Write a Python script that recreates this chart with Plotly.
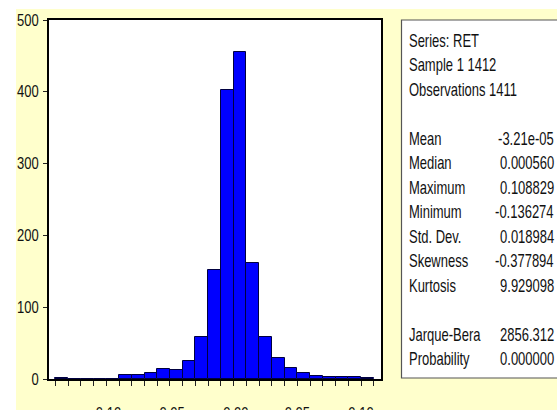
import plotly.graph_objects as go

# ---- data ----
bin_lower = [-0.14, -0.13, -0.12, -0.11, -0.10, -0.09, -0.08, -0.07, -0.06, -0.05,
             -0.04, -0.03, -0.02, -0.01, 0.00, 0.01, 0.02, 0.03, 0.04, 0.05,
             0.06, 0.07, 0.08, 0.09, 0.10]
counts = [2, 0, 0, 0, 0, 6, 5, 8, 14, 12,
          25, 58, 152, 402, 456, 161, 59, 29, 16, 9,
          4, 3, 3, 3, 2]
bin_width = 0.01

x_tick_vals = [round(-0.14 + 0.01 * i, 2) for i in range(26)]
x_label_map = {-0.10: "-0.10", -0.05: "-0.05", 0.0: "-0.00", 0.05: "0.05", 0.10: "0.10"}
y_tick_vals = [0, 100, 200, 300, 400, 500]

stat_header = ["Series: RET", "Sample 1 1412", "Observations 1411"]
stat_labels = ["Mean", "Median", "Maximum", "Minimum", "Std. Dev.", "Skewness", "Kurtosis"]
stat_values = ["-3.21e-05", "0.000560", "0.108829", "-0.136274", "0.018984", "-0.377894", "9.929098"]
test_labels = ["Jarque-Bera", "Probability"]
test_values = ["2856.312", "0.000000"]

# ---- layout geometry ----
W, H = 557, 410
ML, MR, MT, MB = 49, 176, 20, 31
PW = W - ML - MR
PH = H - MT - MB

def px_x(px):
    return (px - ML) / PW

def px_y(py):
    return (H - MB - py) / PH

FONT = "Liberation Sans, Arial, sans-serif"
YELLOW = "#FFFFCC"
TXT = "#111111"

centers = [b + bin_width / 2 for b in bin_lower]

fig = go.Figure()
fig.add_trace(go.Bar(
    x=centers, y=counts, width=[bin_width] * len(counts),
    marker=dict(color="#0000FF", line=dict(color="#000040", width=1)),
    hoverinfo="x+y",
))

shapes = [
    dict(type="rect", xref="paper", yref="paper", layer="below",
         x0=px_x(16), x1=px_x(600), y0=px_y(415), y1=px_y(9),
         fillcolor=YELLOW, line=dict(width=0)),
    dict(type="rect", xref="paper", yref="paper", layer="below",
         x0=0, x1=1, y0=0, y1=1, fillcolor="white", line=dict(width=0)),
    dict(type="rect", xref="paper", yref="paper", layer="above",
         x0=px_x(401.5), x1=px_x(620), y0=px_y(378), y1=px_y(20),
         fillcolor="white", line=dict(color="#555555", width=1.2)),
]

annotations = []
rows = []
for i, t in enumerate(stat_header):
    rows.append((i, t, None))
for j, (lab, val) in enumerate(zip(stat_labels, stat_values)):
    rows.append((4 + j, lab, val))
for j, (lab, val) in enumerate(zip(test_labels, test_values)):
    rows.append((12 + j, lab, val))

for idx, lab, val in rows:
    yy = px_y(40 + 24.5 * idx)
    annotations.append(dict(xref="paper", yref="paper", x=px_x(407), y=yy,
                            text=lab, showarrow=False, xanchor="left", yanchor="middle",
                            align="left",
                            font=dict(family=FONT, size=13, color=TXT)))
    if val is not None:
        annotations.append(dict(xref="paper", yref="paper", x=px_x(556), y=yy,
                                text=val, showarrow=False, xanchor="right", yanchor="middle",
                                align="right",
                                font=dict(family=FONT, size=13, color=TXT)))

fig.update_layout(
    width=W, height=H,
    margin=dict(l=ML, r=MR, t=MT, b=MB, pad=0),
    paper_bgcolor="white", plot_bgcolor="rgba(0,0,0,0)",
    bargap=0, showlegend=False,
    shapes=shapes, annotations=annotations,
    font=dict(family=FONT, size=13, color=TXT),
)
fig.update_xaxes(
    range=[-0.145, 0.1157], tickmode="array", tickvals=x_tick_vals,
    ticktext=[x_label_map.get(v, "") for v in x_tick_vals],
    ticks="outside", ticklen=5, tickwidth=1, tickcolor="#222222",
    ticklabelstandoff=17, automargin=False,
    showline=True, linecolor="black", linewidth=1.5, mirror=True,
    showgrid=False, zeroline=False,
    tickfont=dict(family=FONT, size=13, color=TXT),
)
fig.update_yaxes(
    range=[0, 500], tickmode="array", tickvals=y_tick_vals,
    ticks="outside", ticklen=4, tickwidth=1, tickcolor="#222222",
    ticklabelstandoff=2, automargin=False,
    showline=True, linecolor="black", linewidth=1.5, mirror=True,
    showgrid=False, zeroline=False,
    tickfont=dict(family=FONT, size=13, color=TXT),
)

# The source lettering is tall and narrow; stretch the real SVG text vertically
# about its own centre (widths stay those of the chosen font size).
post_js = """
var gd = document.getElementById('{plot_id}');
function stretch(sel, f) {
  gd.querySelectorAll(sel).forEach(function(t) {
    if (!t.textContent) return;
    var bb = t.getBBox();
    var cy = bb.y + bb.height / 2;
    var tr = t.getAttribute('transform') || '';
    t.setAttribute('transform', tr + ' translate(0,' + cy + ') scale(1,' + f + ') translate(0,' + (-cy) + ')');
  });
}
stretch('.annotation-text', 1.4);
stretch('.xtick text', 1.25);
stretch('.ytick text', 1.25);
"""

fig.write_html("out.html", post_script=post_js)
